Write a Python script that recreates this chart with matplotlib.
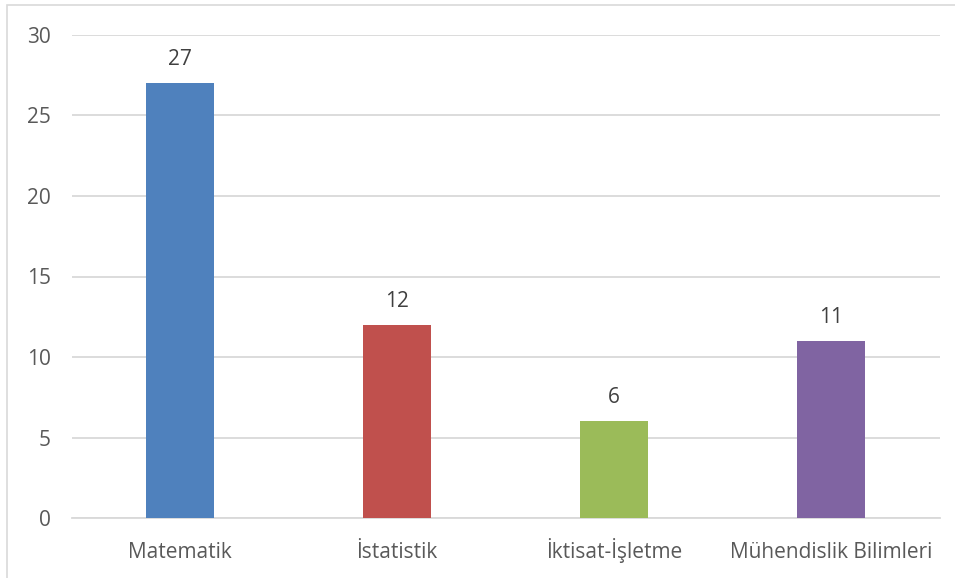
import matplotlib
matplotlib.use("Agg")
import matplotlib.pyplot as plt
from matplotlib.patches import Rectangle

categories = ["Matematik", "İstatistik", "İktisat-İşletme", "Mühendislik Bilimleri"]
values = [27, 12, 6, 11]
colors = ["#4F81BD", "#C0504D", "#9BBB59", "#8064A2"]
yticks = [0, 5, 10, 15, 20, 25, 30]

plt.rcParams['font.family'] = ['Open Sans', 'DejaVu Sans']

fig = plt.figure(figsize=(9.55, 5.78), dpi=100)
ax = fig.add_axes([71.5/955, 1 - 518/578, (939.5-71.5)/955, (518-35)/578])

x = list(range(len(categories)))
bars = ax.bar(x, values, width=0.313, color=colors, zorder=3)
for xi, v in zip(x, values):
    ax.annotate(str(v), (xi, v), xytext=(0, 13), textcoords="offset points",
                ha="center", va="baseline", fontsize=15, color="#404040")

ax.set_xlim(-0.5, len(categories) - 0.5)
ax.set_ylim(0, 30)
ax.set_yticks(yticks)
ax.set_xticks(x)
ax.set_xticklabels(categories)
ax.grid(axis="y", color="#D9D9D9", linewidth=1.3, zorder=0)
ax.set_axisbelow(True)
for s in ["top", "right", "left"]:
    ax.spines[s].set_visible(False)
ax.spines["bottom"].set_color("#D9D9D9")
ax.spines["bottom"].set_linewidth(1.3)
ax.tick_params(axis="both", length=0, labelsize=15, labelcolor="#595959")
ax.tick_params(axis="y", pad=15)
ax.tick_params(axis="x", pad=29)
for lab in ax.get_yticklabels():
    lab.set_horizontalalignment("right")
for lab in ax.get_xticklabels():
    lab.set_verticalalignment("baseline")

fig.patches.append(Rectangle((7/955, -0.1), 1.2, 1 - 5/578 + 0.1, transform=fig.transFigure,
                             fill=False, edgecolor="#D9D9D9", linewidth=1.2))

fig.savefig("out.png", dpi=100)
